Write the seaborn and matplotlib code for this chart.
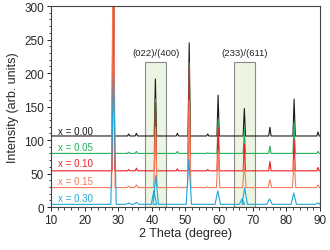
import pandas as pd
import matplotlib.pyplot as plt
import seaborn as sns
from matplotlib.patches import Rectangle
from matplotlib.ticker import MultipleLocator

sns.set_style("ticks")
plt.rcParams["font.family"] = ["Liberation Sans", "DejaVu Sans"]

# sample labels, colours and flat baselines of each stacked trace
samples = ["x = 0.00", "x = 0.05", "x = 0.10", "x = 0.15", "x = 0.30"]
colors = ["#1a1a1a", "#22b15a", "#f01e23", "#f47c5c", "#1fa6d9"]
baselines = [106, 80, 54, 29, 4]
label_y = [113, 89, 65, 38.5, 13]

# peak positions (2 theta) and net heights
peaks = [28.55, 33.1, 35.4, 41.05, 47.6, 51.1, 56.6, 59.7, 67.5, 75.1, 82.3, 89.4]
h_000 = [480, 3, 4, 85, 4, 139, 3, 61, 41, 13, 55, 6]
h_005 = [480, 2, 3, 81, 3, 135, 1, 51, 36, 11, 46, 3]
h_010 = [480, 2, 4, 102, 3, 156, 2, 65, 40, 14, 47, 5]
h_015 = [480, 2, 4, 90, 1, 130, 1, 55, 38, 12, 40, 4]
peaks_030 = [28.6, 33.1, 35.4, 40.6, 41.15, 51.0, 59.6, 66.8, 67.6, 75.0, 82.2, 89.4]
h_030 = [195, 2, 3, 20, 43, 67, 20, 8, 25, 8, 17, 2]
widths = [0.35, 0.35, 0.35, 0.5, 0.8]

# boxes marking the (022)/(400) and (233)/(611) reflections
boxes = [(38.0, 44.3, "(022)/(400)"), (64.5, 70.8, "(233)/(611)")]
box_top = 216


def trace(name, base, pos, heights, w):
    xs, ys = [10.0], [base]
    for p, h in zip(pos, heights):
        xs += [p - w, p, p + w]
        ys += [base, base + h, base]
    xs.append(90.0)
    ys.append(base)
    return pd.DataFrame({"tt": xs, "I": ys, "sample": name})


all_pos = [peaks, peaks, peaks, peaks, peaks_030]
all_h = [h_000, h_005, h_010, h_015, h_030]
df = pd.concat(
    [trace(s, b, p, h, w) for s, b, p, h, w in zip(samples, baselines, all_pos, all_h, widths)],
    ignore_index=True,
)

fig = plt.figure(figsize=(3.3, 2.51), dpi=100)
ax = fig.add_axes([0.1545, 0.1713, 0.8152, 0.8008])

for x0, x1, txt in boxes:
    ax.add_patch(Rectangle((x0, 0), x1 - x0, box_top, facecolor="#ebf5e1",
                           edgecolor="#8a8a8a", linewidth=0.8, zorder=0))
    ax.text((x0 + x1) / 2, 230, txt, ha="center", va="center", fontsize=6.8, color="#222222")

sns.lineplot(data=df, x="tt", y="I", hue="sample", hue_order=samples, palette=colors,
             estimator=None, sort=False, linewidth=0.8, legend=False, ax=ax)

for s, c, y in zip(samples, colors, label_y):
    ax.text(12.1, y, s, color=c, fontsize=7, ha="left", va="center")

ax.set_xlim(10, 90)
ax.set_ylim(0, 300)
ax.xaxis.set_major_locator(MultipleLocator(10))
ax.xaxis.set_minor_locator(MultipleLocator(2))
ax.yaxis.set_major_locator(MultipleLocator(50))
ax.yaxis.set_minor_locator(MultipleLocator(10))
ax.tick_params(which="major", length=3, width=0.7, labelsize=8.5, pad=2)
ax.tick_params(which="minor", length=1.8, width=0.6)
for sp in ax.spines.values():
    sp.set_linewidth(0.8)
    sp.set_color("#444444")
ax.set_xlabel("2 Theta (degree)", fontsize=9, labelpad=1)
ax.set_ylabel("Intensity (arb. units)", fontsize=9, labelpad=4)

fig.savefig("out.png", dpi=100)
